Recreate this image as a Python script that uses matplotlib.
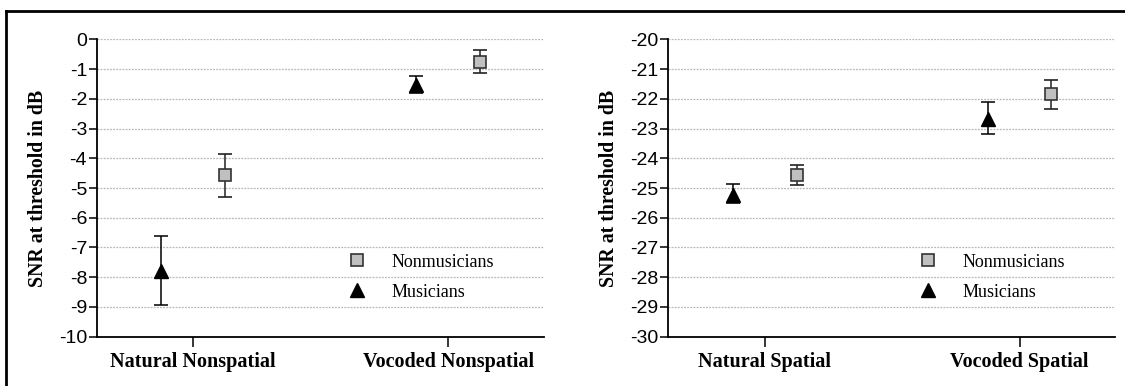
import numpy as np
import matplotlib
matplotlib.use('Agg')
import matplotlib.pyplot as plt
from matplotlib.lines import Line2D

# values
cats_left = ['Natural Nonspatial', 'Vocoded Nonspatial']
cats_right = ['Natural Spatial', 'Vocoded Spatial']

mus_left = [-7.8, -1.54]
mus_left_hi = [-6.61, -1.24]
mus_left_lo = [-8.92, -1.79]
non_left = [-4.57, -0.75]
non_left_hi = [-3.86, -0.36]
non_left_lo = [-5.30, -1.15]

mus_right = [-25.22, -22.68]
mus_right_hi = [-24.87, -22.12]
mus_right_lo = [-25.52, -23.17]
non_right = [-24.57, -21.85]
non_right_hi = [-24.23, -21.37]
non_right_lo = [-24.90, -22.35]

yticks_left = np.arange(-10, 1, 1)
yticks_right = np.arange(-30, -19, 1)

serif = 'Liberation Serif'
sans = 'Liberation Sans'


def panel(ax, cats, mus, mus_hi, mus_lo, non, non_hi, non_lo, yticks):
    x = np.arange(len(cats))
    off = 0.125
    mus = np.array(mus)
    non = np.array(non)
    ax.errorbar(x - off, mus, yerr=[mus - np.array(mus_lo), np.array(mus_hi) - mus],
                fmt='^', ms=10.5, color='black', ecolor='black', elinewidth=1.1,
                capsize=5.3, capthick=1.1, zorder=3)
    ax.errorbar(x + off, non, yerr=[non - np.array(non_lo), np.array(non_hi) - non],
                fmt='s', ms=9, mfc='#c0c0c0', mec='#333333', mew=1.2,
                ecolor='#222222', elinewidth=1.1, capsize=5.3, capthick=1.1, zorder=3)
    ax.set_xlim(-0.378, 1.374)
    ax.set_ylim(yticks[0], yticks[-1])
    ax.set_yticks(yticks)
    ax.set_yticklabels([str(v) for v in yticks], fontfamily=sans, fontsize=14)
    ax.set_xticks(x)
    ax.set_xticklabels(cats, fontfamily=serif, fontweight='bold', fontsize=14.5)
    ax.tick_params(axis='y', length=6, width=1.1, pad=1)
    ax.tick_params(axis='x', length=7, width=1.1, pad=4)
    for v in yticks[1:]:
        ax.axhline(v, color='#b8b8b8', lw=0.9, ls=(0, (1.5, 1)), zorder=1)
    ax.spines['top'].set_visible(False)
    ax.spines['right'].set_visible(False)
    ax.spines['left'].set_linewidth(1.3)
    ax.spines['bottom'].set_linewidth(1.3)
    ax.set_ylabel('SNR at threshold in dB', fontfamily=serif, fontweight='bold',
                  fontsize=14.3, labelpad=8)
    handles = [Line2D([], [], ls='none', marker='s', ms=9, mfc='#c0c0c0', mec='#333333', mew=1.2),
               Line2D([], [], ls='none', marker='^', ms=10.5, color='black')]
    ax.legend(handles, ['Nonmusicians', 'Musicians'], loc='center left',
              bbox_to_anchor=(0.542, 0.20), frameon=False, borderpad=0,
              handlelength=1.0, handletextpad=1.4, labelspacing=0.73,
              prop={'family': serif, 'size': 13})


fig = plt.figure(figsize=(11.25, 3.86), dpi=100)
ax1 = fig.add_axes([0.0860, 0.1277, 0.3972, 0.7705])
ax2 = fig.add_axes([0.5940, 0.1277, 0.3971, 0.7705])
panel(ax1, cats_left, mus_left, mus_left_hi, mus_left_lo,
      non_left, non_left_hi, non_left_lo, yticks_left)
panel(ax2, cats_right, mus_right, mus_right_hi, mus_right_lo,
      non_right, non_right_hi, non_right_lo, yticks_right)

# outer frame (only top and left edges show in the crop)
fig.add_artist(Line2D([0.005, 1.0], [1 - 11 / 386, 1 - 11 / 386], color='black', lw=2))
fig.add_artist(Line2D([6 / 1125, 6 / 1125], [0, 1 - 11 / 386], color='black', lw=2))

fig.savefig('out.png', dpi=100)
